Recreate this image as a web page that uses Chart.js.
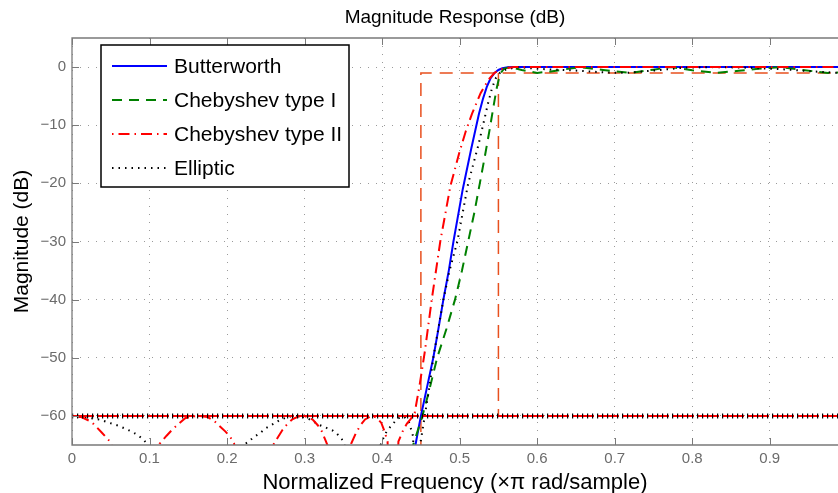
<!DOCTYPE html>
<html>
<head>
<meta charset="utf-8">
<script src="https://cdn.jsdelivr.net/npm/chart.js@4.4.1/dist/chart.umd.min.js"></script>
<style>
html, body { margin: 0; padding: 0; background: #fff; }
</style>
</head>
<body>
<canvas id="magChart" width="838" height="493"></canvas>
<script>
// axis ticks
const xTickValues = [0, 0.1, 0.2, 0.3, 0.4, 0.5, 0.6, 0.7, 0.8, 0.9];
const xTickLabels = ['0', '0.1', '0.2', '0.3', '0.4', '0.5', '0.6', '0.7', '0.8', '0.9'];
const yTickValues = [-60, -50, -40, -30, -20, -10, 0];
const yTickLabels = ['\u221260', '\u221250', '\u221240', '\u221230', '\u221220', '\u221210', '0'];

// Butterworth
const butterFreq = [0.43, 0.443, 0.45, 0.458, 0.466, 0.472, 0.479, 0.486, 0.492, 0.498, 0.504, 0.51, 0.515, 0.52, 0.525, 0.53, 0.535, 0.54, 0.545, 0.55, 0.555, 0.562, 0.57, 0.988];
const butterMag = [-78, -65, -60, -55, -50, -45.5, -40, -35, -30, -25.5, -21, -17.2, -14, -11, -8, -5.5, -3.4, -1.9, -1, -0.5, -0.2, -0.05, 0, 0];

// Chebyshev type I
const cheby1Freq = [0.43, 0.44, 0.452, 0.46, 0.471, 0.483, 0.494, 0.503, 0.511, 0.519, 0.526, 0.533, 0.539, 0.544, 0.548, 0.552, 0.557, 0.565, 0.58, 0.6, 0.615, 0.63, 0.655, 0.685, 0.72, 0.75, 0.772, 0.8, 0.83, 0.86, 0.885, 0.914, 0.945, 0.975, 0.988];
const cheby1Mag = [-75, -65, -60, -56, -50, -45, -40, -35, -30, -25, -20, -15, -10.5, -6.5, -3.5, -1.2, -0.3, 0, -0.5, -1, -0.8, -0.5, 0, -0.5, -1, -0.45, 0, -0.55, -1, -0.65, -0.3, 0, -0.55, -1, -0.95];

// Chebyshev type II
const cheby2Freq = [0, 0.012, 0.025, 0.038, 0.051, 0.08, 0.113, 0.122, 0.129, 0.137, 0.146, 0.156, 0.165, 0.175, 0.183, 0.19, 0.198, 0.204, 0.209, 0.235, 0.26, 0.265, 0.271, 0.277, 0.284, 0.292, 0.298, 0.305, 0.311, 0.317, 0.322, 0.327, 0.33, 0.345, 0.36, 0.366, 0.372, 0.378, 0.386, 0.393, 0.399, 0.403, 0.407, 0.415, 0.421, 0.427, 0.432, 0.437, 0.442, 0.448, 0.455, 0.464, 0.475, 0.488, 0.5, 0.508, 0.516, 0.527, 0.537, 0.545, 0.555, 0.57, 0.988];
const cheby2Mag = [-60, -60.2, -61, -62.8, -64.7, -95, -64.8, -63.4, -62.4, -61.4, -60.4, -60.05, -60, -60.2, -60.8, -61.7, -62.7, -63.6, -64.7, -95, -64.9, -63.8, -62.5, -61.5, -60.6, -60.1, -60, -60.2, -60.7, -61.6, -62.6, -64.2, -65.2, -95, -64.8, -63, -61.6, -60.6, -60, -60.3, -61.2, -62.6, -64.4, -90, -64.4, -62.5, -61.3, -60.5, -59.5, -55, -49, -40, -30, -20.5, -14.5, -11, -8, -4.5, -2.2, -1, -0.3, 0, 0];

// Elliptic
const ellipFreq = [0, 0.015, 0.025, 0.038, 0.046, 0.058, 0.069, 0.077, 0.085, 0.093, 0.1, 0.15, 0.221, 0.227, 0.234, 0.243, 0.25, 0.258, 0.268, 0.28, 0.292, 0.304, 0.312, 0.318, 0.329, 0.336, 0.342, 0.348, 0.352, 0.375, 0.398, 0.401, 0.406, 0.413, 0.419, 0.425, 0.43, 0.435, 0.44, 0.444, 0.449, 0.455, 0.461, 0.466, 0.479, 0.487, 0.497, 0.504, 0.511, 0.518, 0.524, 0.531, 0.537, 0.542, 0.547, 0.552, 0.56, 0.575, 0.6, 0.65, 0.69, 0.715, 0.75, 0.79, 0.83, 0.87, 0.92, 0.95, 0.988];
const ellipMag = [-60, -60.2, -60.4, -60.7, -61.1, -61.6, -62.2, -62.7, -63.3, -64.2, -65.3, -95, -65, -64.5, -63.7, -62.9, -62.1, -61.5, -60.7, -60.1, -60, -60.4, -61, -61.5, -62.1, -62.5, -63.1, -64, -65.2, -95, -65, -64, -62.6, -61.5, -60.6, -60.1, -60.3, -61.2, -63.5, -90, -65, -60, -55, -50, -40, -35, -30, -25, -20, -16.5, -13.5, -9.5, -6, -3.5, -1.8, -1, -0.4, 0, -0.3, -0.6, -0.95, -1, -0.6, -0.1, 0, -0.1, -0.4, -0.7, -1];

// specification mask
const maskStopFreq = [0.45, 0.45, 0.988];
const maskStopMag = [-70, -1, -1];
const maskPassFreq = [0.55, 0.55];
const maskPassMag = [-1, -60];
const attenFreq = [0, 0.988];
const attenMag = [-60, -60];

const toPoints = (xs, ys) => xs.map((x, i) => ({ x: x, y: ys[i] }));

const legendItems = [
    { label: 'Butterworth', color: '#0000ff', dash: [], width: 2 },
    { label: 'Chebyshev type I', color: '#008000', dash: [10, 7], width: 2 },
    { label: 'Chebyshev type II', color: '#ff0000', dash: [1.5, 5, 11, 5], width: 2 },
    { label: 'Elliptic', color: '#000000', dash: [1.5, 5], width: 2 }
];

const frameAndLegend = {
    id: 'frameAndLegend',
    afterDraw(chart) {
        const ctx = chart.ctx;
        const a = chart.chartArea;
        const xs = chart.scales.x, ys = chart.scales.y;
        ctx.save();
        ctx.strokeStyle = '#7a7a7a';
        ctx.lineWidth = 1.3;
        ctx.setLineDash([]);
        ctx.beginPath();
        ctx.moveTo(a.right + 4, a.top);
        ctx.lineTo(a.left, a.top);
        ctx.lineTo(a.left, a.bottom);
        ctx.lineTo(a.right + 4, a.bottom);
        ctx.stroke();
        ctx.lineWidth = 1;
        ctx.beginPath();
        xTickValues.forEach(v => {
            const px = Math.round(xs.getPixelForValue(v)) + 0.5;
            ctx.moveTo(px, a.bottom); ctx.lineTo(px, a.bottom - 7);
            ctx.moveTo(px, a.top); ctx.lineTo(px, a.top + 7);
        });
        yTickValues.forEach(v => {
            const py = Math.round(ys.getPixelForValue(v)) + 0.5;
            ctx.moveTo(a.left, py); ctx.lineTo(a.left + 7, py);
        });
        ctx.stroke();

        // legend box
        const bx = a.left + 29, by = a.top + 7, bw = 248, bh = 142;
        ctx.fillStyle = '#ffffff';
        ctx.fillRect(bx, by, bw, bh);
        ctx.strokeStyle = '#000000';
        ctx.lineWidth = 1.5;
        ctx.strokeRect(bx, by, bw, bh);
        ctx.font = '21px "Liberation Sans", Arial, sans-serif';
        ctx.textBaseline = 'middle';
        ctx.textAlign = 'left';
        legendItems.forEach((item, i) => {
            const cy = by + 21 + i * 34;
            ctx.strokeStyle = item.color;
            ctx.lineWidth = item.width;
            ctx.setLineDash(item.dash);
            ctx.beginPath();
            ctx.moveTo(bx + 11, cy);
            ctx.lineTo(bx + 66, cy);
            ctx.stroke();
            ctx.setLineDash([]);
            ctx.fillStyle = '#000000';
            ctx.fillText(item.label, bx + 73, cy + 1);
        });
        ctx.restore();
    }
};

const canvas = document.getElementById('magChart');

new Chart(canvas, {
    type: 'line',
    data: {
        datasets: [
            {
                label: 'atten ticks',
                data: toPoints(attenFreq, attenMag),
                borderColor: '#000000',
                borderWidth: 5,
                borderDash: [1.2, 3.8],
                borderCapStyle: 'butt',
                pointRadius: 0,
                order: 0
            },
            {
                label: 'atten',
                data: toPoints(attenFreq, attenMag),
                borderColor: '#ff0000',
                borderWidth: 2,
                borderDash: [22, 3],
                pointRadius: 0,
                order: 1
            },
            {
                label: 'Chebyshev type II',
                data: toPoints(cheby2Freq, cheby2Mag),
                borderColor: '#ff0000',
                borderWidth: 2,
                borderDash: [1.5, 5, 11, 5],
                pointRadius: 0,
                tension: 0,
                order: 2
            },
            {
                label: 'Elliptic',
                data: toPoints(ellipFreq, ellipMag),
                borderColor: '#000000',
                borderWidth: 2,
                borderDash: [1.5, 5],
                pointRadius: 0,
                order: 3
            },
            {
                label: 'Chebyshev type I',
                data: toPoints(cheby1Freq, cheby1Mag),
                borderColor: '#008000',
                borderWidth: 2,
                borderDash: [10, 7],
                pointRadius: 0,
                order: 4
            },
            {
                label: 'Butterworth',
                data: toPoints(butterFreq, butterMag),
                borderColor: '#0000ff',
                borderWidth: 2,
                pointRadius: 0,
                order: 5
            },
            {
                label: 'mask stop',
                data: toPoints(maskStopFreq, maskStopMag),
                borderColor: '#e8501e',
                borderWidth: 1.5,
                borderDash: [13, 8],
                pointRadius: 0,
                order: 6
            },
            {
                label: 'mask pass',
                data: toPoints(maskPassFreq, maskPassMag),
                borderColor: '#e8501e',
                borderWidth: 1.5,
                borderDash: [13, 8],
                pointRadius: 0,
                order: 7
            }
        ]
    },
    options: {
        responsive: false,
        animation: false,
        devicePixelRatio: 1,
        layout: { padding: { left: 0, right: 0, top: 0, bottom: 0 } },
        plugins: {
            legend: { display: false },
            tooltip: { enabled: false },
            title: {
                display: true,
                fullSize: false,
                text: 'Magnitude Response (dB)',
                color: '#000000',
                font: { family: '"Liberation Sans", Arial, sans-serif', size: 19, weight: 'normal' },
                padding: { top: 6.6, bottom: 8.6 }
            }
        },
        scales: {
            x: {
                type: 'linear',
                min: 0,
                max: 0.988,
                afterBuildTicks: scale => { scale.ticks = xTickValues.map(v => ({ value: v })); },
                afterFit: scale => { scale.height = 48; },
                ticks: {
                    autoSkip: false,
                    maxRotation: 0,
                    padding: 5,
                    color: '#6b6b6b',
                    font: { family: '"Liberation Sans", Arial, sans-serif', size: 15 },
                    callback: (v) => xTickLabels[xTickValues.indexOf(Math.round(v * 10) / 10)]
                },
                grid: { color: '#9a9a9a', lineWidth: 1, drawTicks: false },
                border: { display: false, dash: [1, 7] },
                title: {
                    display: true,
                    text: 'Normalized Frequency (\u00d7\u03c0 rad/sample)',
                    color: '#000000',
                    font: { family: '"Liberation Sans", Arial, sans-serif', size: 22, lineHeight: 1 },
                    padding: { top: 0, bottom: -1 }
                }
            },
            y: {
                type: 'linear',
                min: -65,
                max: 5,
                afterBuildTicks: scale => { scale.ticks = yTickValues.map(v => ({ value: v })); },
                afterFit: scale => { scale.width = 72; },
                ticks: {
                    padding: 6,
                    color: '#6b6b6b',
                    font: { family: '"Liberation Sans", Arial, sans-serif', size: 15 },
                    callback: (v) => yTickLabels[yTickValues.indexOf(Math.round(v))]
                },
                grid: { color: '#9a9a9a', lineWidth: 1, drawTicks: false },
                border: { display: false, dash: [1, 7] },
                title: {
                    display: true,
                    text: 'Magnitude (dB)',
                    color: '#000000',
                    font: { family: '"Liberation Sans", Arial, sans-serif', size: 21, lineHeight: 1.2 },
                    padding: { top: 10, bottom: 0 }
                }
            }
        }
    },
    plugins: [frameAndLegend]
});
</script>
</body>
</html>
